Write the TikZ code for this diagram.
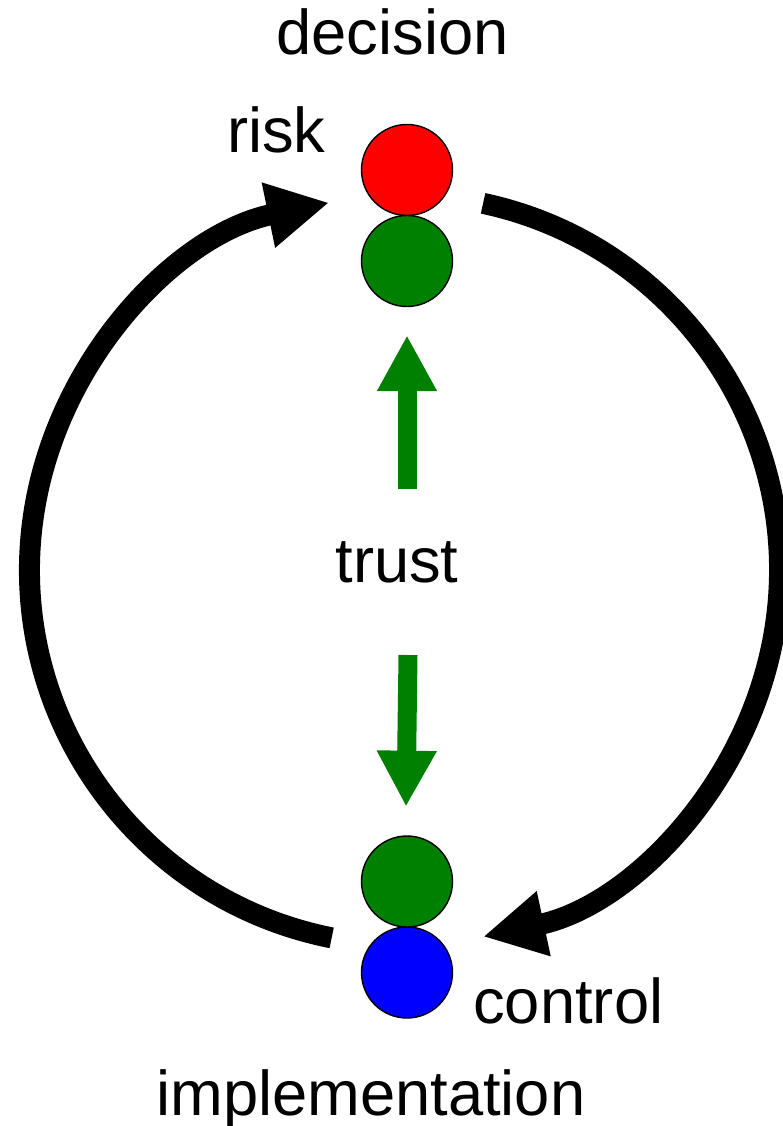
\documentclass[tikz,border=0pt]{standalone}
\usepackage{fontspec}
\setmainfont{Liberation Sans}
\usepackage{tikz}
\usetikzlibrary{arrows.meta,positioning,calc}
\definecolor{leafgreen}{RGB}{0,128,0}

\begin{document}
\begin{tikzpicture}[
  font=\fontsize{36}{43}\selectfont,
  lbl/.style={inner sep=0pt, anchor=base},
  dot/.style={circle, draw, line width=0.8pt, minimum size=1.82cm, inner sep=0pt, outer sep=0pt},
  cyc/.style={line width=0.42cm, -{Triangle[length=1.24cm,width=1.24cm]}},
  trustarr/.style={leafgreen, line width=0.38cm, -{Triangle[length=1.12cm,width=1.12cm]}}
]
\useasboundingbox (0,0) rectangle (15.64,-22.52);
% the two lights at each end
\node[dot, fill=red] (risk) at (8.14,-3.40) {};
\node[dot, fill=leafgreen, below=0pt of risk] (dtrust) {};
\node[dot, fill=blue] (ctrl) at (8.14,-19.45) {};
\node[dot, fill=leafgreen, above=0pt of ctrl] (itrust) {};
% labels
\node[lbl] (dec) at (7.85,-1.086) {decision};
\node[lbl] (risklbl) at (5.526,-3.054) {risk};
\node[lbl] (trust) at (7.94,-11.654) {trust};
\node[lbl] (ctrllbl) at (11.366,-20.466) {control};
\node[lbl] (impl) at (7.416,-22.30) {implementation};
% the cycle
\coordinate (hub) at (8.09,-11.40);
\draw[cyc] ($(hub)+(77.9:7.5)$) arc[start angle=77.9, end angle=-77.9, radius=7.5];
\draw[cyc] ($(hub)+(258.8:7.5)$) arc[start angle=258.8, end angle=101.6, radius=7.5];
% trust pushes both ways
\draw[trustarr] ($(trust.base)+(0.2,1.874)$) -- ($(dtrust.south)+(0,-0.574)$);
\draw[trustarr] ($(trust.base)+(0.22,-1.446)$) -- ($(itrust.north)+(-0.02,0.586)$);
\end{tikzpicture}
\end{document}
